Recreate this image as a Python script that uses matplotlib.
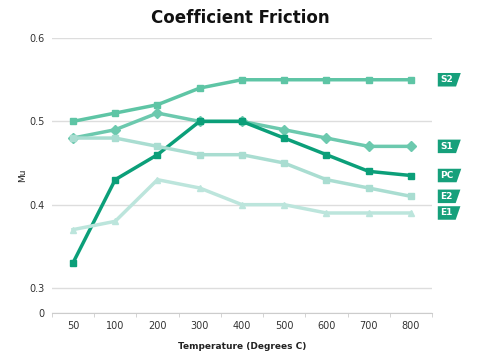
import numpy as np
import matplotlib
matplotlib.use("Agg")
import matplotlib.pyplot as plt
from matplotlib.path import Path

categories = ["50", "100", "200", "300", "400", "500", "600", "700", "800"]
s2 = [0.50, 0.51, 0.52, 0.54, 0.55, 0.55, 0.55, 0.55, 0.55]
s1 = [0.48, 0.49, 0.51, 0.50, 0.50, 0.49, 0.48, 0.47, 0.47]
pc = [0.33, 0.43, 0.46, 0.50, 0.50, 0.48, 0.46, 0.44, 0.435]
e2 = [0.48, 0.48, 0.47, 0.46, 0.46, 0.45, 0.43, 0.42, 0.41]
e1 = [0.37, 0.38, 0.43, 0.42, 0.40, 0.40, 0.39, 0.39, 0.39]
yticks = [0, 0.3, 0.4, 0.5, 0.6]
ytick_labels = ["0", "0.3", "0.4", "0.5", "0.6"]

series = [
    ("S2", s2, "#5ec5a5", "s"),
    ("S1", s1, "#6cc9ae", "D"),
    ("PC", pc, "#0b9f79", "s"),
    ("E2", e2, "#a9ddd1", "s"),
    ("E1", e1, "#bce5dc", "^"),
]

BREAK = 0.3
COMP = 0.1


def fwd(y):
    y = np.asarray(y, dtype=float)
    return np.where(y >= BREAK, y, BREAK - (BREAK - y) * COMP)


def inv(y):
    y = np.asarray(y, dtype=float)
    return np.where(y >= BREAK, y, BREAK - (BREAK - y) / COMP)


def tag_box(x0, y0, width, height, mutation_size):
    pad = 0.25 * mutation_size
    x0 -= pad
    y0 -= pad
    w = width + 2 * pad + 1
    h = height + 2 * pad
    slant = 0.35 * h
    verts = [(x0, y0), (x0 + w, y0), (x0 + w + slant, y0 + h), (x0, y0 + h), (x0, y0)]
    codes = [Path.MOVETO, Path.LINETO, Path.LINETO, Path.LINETO, Path.CLOSEPOLY]
    return Path(verts, codes)


fig = plt.figure(figsize=(4.8, 3.63), dpi=100)
ax = fig.add_axes([0.108, 0.138, 0.792, 0.757])
ax.set_yscale("function", functions=(fwd, inv))

x = np.arange(len(categories))
for name, vals, color, marker in series:
    ax.plot(x, vals, color=color, lw=2.5, marker=marker,
            ms=4.6 if marker != "D" else 5.0, zorder=3, solid_joinstyle="miter")
    ax.annotate(name, xy=(x[-1], vals[-1]), xytext=(21, 0), textcoords="offset points",
                ha="left", va="center", color="white", fontsize=6.5, fontweight="bold",
                bbox=dict(boxstyle=tag_box, fc="#16a07b", ec="none"),
                annotation_clip=False)

ax.set_xlim(-0.5, len(categories) - 0.5)
ax.set_ylim(0, 0.6)
ax.set_yticks(yticks)
ax.set_yticklabels(ytick_labels)
ax.set_xticks(x)
ax.set_xticklabels(categories)
ax.set_xticks(np.arange(len(categories) + 1) - 0.5, minor=True)
ax.tick_params(axis="x", which="major", length=0, pad=6, labelsize=7, colors="#333333")
ax.tick_params(axis="x", which="minor", length=3, color="#cccccc")
ax.tick_params(axis="y", length=0, pad=5, labelsize=7, colors="#333333")
ax.grid(axis="y", color="#dddddd", lw=1)
ax.set_axisbelow(True)
for s in ["top", "right", "left"]:
    ax.spines[s].set_visible(False)
ax.spines["bottom"].set_color("#cccccc")

ax.set_ylabel("Mu", fontsize=6.5, labelpad=2, color="#222222")
ax.set_xlabel("Temperature (Degrees C)", fontsize=6.5, fontweight="bold", labelpad=8, color="#222222")
fig.text(0.5, 0.95, "Coefficient Friction", ha="center", va="center",
         fontsize=12, fontweight="bold", color="#111111")

fig.savefig("out.png", dpi=100, facecolor="white")
